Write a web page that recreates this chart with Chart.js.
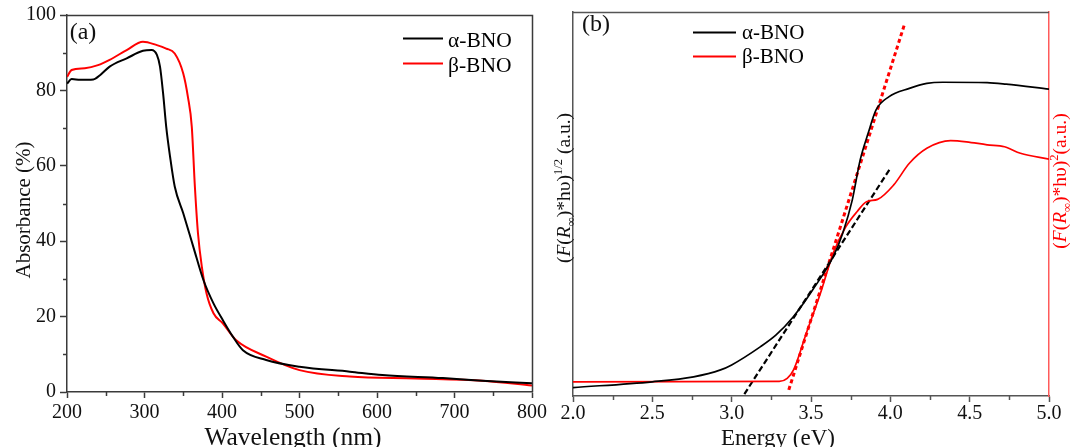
<!DOCTYPE html>
<html><head><meta charset="utf-8">
<script src="https://cdn.jsdelivr.net/npm/chart.js@4.4.1/dist/chart.umd.min.js"></script>
<style>
html,body{margin:0;padding:0;background:#fff;overflow:hidden}
#wrap{position:relative;width:1072px;height:447px;background:#fff}
canvas{position:absolute;top:0}
#ca{left:0}
#cb{left:540px}
</style></head><body>
<div id="wrap"><canvas id="ca" width="560" height="447"></canvas><canvas id="cb" width="532" height="447"></canvas></div>
<script>
const FONT = "'Liberation Serif','Times New Roman',serif";

// ---- Panel (a): absorbance spectra ----
const seriesNames = ['α-BNO', 'β-BNO'];
const wavelengthAlpha = [200,206,217,234,243,255,277,298,309,316,320,324,328,333,339,350,363,376,389,401,414,427,457,500,565,607,685,736,800];
const absorbanceAlpha = [81.8,83.0,82.8,82.9,84.1,86.3,88.5,90.5,90.7,89.4,86.3,79.2,70.4,62.4,54.5,47.4,38.5,29.7,23.5,19.1,14.7,11.1,8.5,6.7,5.4,4.5,3.7,3.0,2.3];
const wavelengthBeta = [200,206,223,240,255,277,298,316,328,339,350,356,361,365,369,374,380,389,401,418,457,500,565,650,736,800];
const absorbanceBeta = [83.6,85.4,85.9,86.7,88.1,90.7,92.9,92.0,91.1,89.8,84.5,78.3,70.4,54.5,42.1,33.2,26.2,20.9,18.2,13.8,9.4,5.8,4.1,3.6,3.0,1.7];
const wavelengthTicks = [200,300,400,500,600,700,800];
const wavelengthMinor = [250,350,450,550,650,750];
const absorbanceTicks = [0,20,40,60,80,100];
const absorbanceMinor = [10,30,50,70,90];

// ---- Panel (b): Tauc plots (a.u.) ----
const energyAlpha = [2.0,2.5,2.76,2.93,3.0,3.18,3.28,3.39,3.51,3.64,3.70,3.76,3.81,3.86,3.91,3.99,4.12,4.23,4.33,4.61,4.73,5.0];
const taucAlpha = [2.2,3.7,5.0,6.8,8.1,12.8,15.9,20.7,27.6,36.3,42.4,51.0,61.5,68.4,74.5,77.9,80.1,81.4,81.7,81.6,81.2,79.9];
const energyBeta = [2.0,3.30,3.35,3.39,3.47,3.56,3.64,3.72,3.79,3.85,3.92,4.02,4.12,4.23,4.38,4.48,4.61,4.72,4.82,5.0];
const taucBeta = [3.7,3.8,4.6,6.8,16.3,26.8,37.2,44.1,48.0,50.6,51.2,54.9,60.6,64.5,66.5,66.2,65.4,64.9,63.2,61.7];
const fitAlphaX = [3.08, 4.00];
const fitAlphaY = [0.5, 59.3];
const fitBetaX = [3.36, 4.09];
const fitBetaY = [1.6, 96.9];
const energyTicks = [2.0,2.5,3.0,3.5,4.0,4.5,5.0];
const energyMinor = [2.25,2.75,3.25,3.75,4.25,4.75];

const AX = '#3a3a3a';
const AXB = '#555555';
const RED = '#ff0000';
const RAX = '#ff5a5a';

const pts = (xs, ys) => xs.map((x, i) => ({x, y: ys[i]}));

function drawRich(ctx, x, y, rot, segs, color, size) {
  ctx.save();
  ctx.translate(x, y);
  ctx.rotate(rot);
  ctx.fillStyle = color;
  ctx.textBaseline = 'alphabetic';
  ctx.textAlign = 'left';
  let total = 0;
  const m = segs.map(s => {
    const sz = size * (s.scale || 1);
    const f = (s.italic ? 'italic ' : '') + sz + 'px ' + FONT;
    ctx.font = f;
    const w = ctx.measureText(s.t).width;
    total += w;
    return {f, w, dy: (s.dy || 0) * size, t: s.t};
  });
  let cx = -total / 2;
  for (const s of m) { ctx.font = s.f; ctx.fillText(s.t, cx, s.dy); cx += s.w; }
  ctx.restore();
}

function legend(ctx, x0, x1, tx, rows, size) {
  ctx.save();
  ctx.font = size + 'px ' + FONT;
  ctx.textBaseline = 'alphabetic';
  ctx.textAlign = 'left';
  rows.forEach(r => {
    ctx.strokeStyle = r.color; ctx.lineWidth = 2;
    ctx.beginPath(); ctx.moveTo(x0, r.ly); ctx.lineTo(x1, r.ly); ctx.stroke();
    ctx.fillStyle = '#000';
    ctx.fillText(r.label, tx, r.by);
  });
  ctx.restore();
}

function minorTicksX(ctx, scale, vals, len, color) {
  ctx.save(); ctx.strokeStyle = color; ctx.lineWidth = 1.5;
  vals.forEach(v => { const p = Math.round(scale.getPixelForValue(v)) + 0.5; ctx.beginPath(); ctx.moveTo(p, scale.top); ctx.lineTo(p, scale.top + len); ctx.stroke(); });
  ctx.restore();
}
function minorTicksY(ctx, scale, vals, len, color) {
  ctx.save(); ctx.strokeStyle = color; ctx.lineWidth = 1.5;
  vals.forEach(v => { const p = Math.round(scale.getPixelForValue(v)) + 0.5; ctx.beginPath(); ctx.moveTo(scale.right, p); ctx.lineTo(scale.right - len, p); ctx.stroke(); });
  ctx.restore();
}

const tickFont = {family: FONT, size: 20};

// ---------------- Chart (a) ----------------
new Chart(document.getElementById('ca'), {
  type: 'line',
  data: {datasets: [
    {label: seriesNames[0], data: pts(wavelengthAlpha, absorbanceAlpha), borderColor: '#000', borderWidth: 2, pointRadius: 0, cubicInterpolationMode: 'monotone', fill: false},
    {label: seriesNames[1], data: pts(wavelengthBeta, absorbanceBeta), borderColor: RED, borderWidth: 2, pointRadius: 0, cubicInterpolationMode: 'monotone', fill: false}
  ]},
  options: {
    responsive: false, animation: false, devicePixelRatio: 1, events: [],
    layout: {padding: {left: 0, right: 28, top: 15, bottom: 0}},
    plugins: {legend: {display: false}, tooltip: {enabled: false}},
    scales: {
      x: {type: 'linear', min: 200, max: 800,
        afterBuildTicks: s => { s.ticks = wavelengthTicks.map(v => ({value: v})); },
        afterFit: s => { s.height = 55; s.paddingLeft = 0; s.paddingRight = 0; },
        grid: {display: true, drawOnChartArea: false, drawTicks: true, tickLength: 6, tickColor: AX, tickWidth: 1.5},
        border: {display: true, color: AX, width: 1.5},
        ticks: {font: tickFont, color: '#111', padding: 3, maxRotation: 0, autoSkip: false, callback: v => String(v)}},
      y: {type: 'linear', min: 0, max: 100,
        afterBuildTicks: s => { s.ticks = absorbanceTicks.map(v => ({value: v})); },
        afterFit: s => { s.width = 67; s.paddingTop = 0; s.paddingBottom = 0; },
        grid: {display: true, drawOnChartArea: false, drawTicks: true, tickLength: 7, tickColor: AX, tickWidth: 1.5},
        border: {display: true, color: AX, width: 1.5},
        ticks: {font: tickFont, color: '#111', padding: 4, autoSkip: false, callback: v => String(v)}}
    }
  },
  plugins: [{
    id: 'decorA',
    afterDraw(chart) {
      const ctx = chart.ctx, a = chart.chartArea;
      ctx.save(); ctx.strokeStyle = AX; ctx.lineWidth = 1.5;
      ctx.beginPath(); ctx.moveTo(a.left, a.top + 0.5); ctx.lineTo(a.right + 0.5, a.top + 0.5); ctx.lineTo(a.right + 0.5, a.bottom); ctx.stroke();
      ctx.restore();
      minorTicksX(ctx, chart.scales.x, wavelengthMinor, 4, AX);
      minorTicksY(ctx, chart.scales.y, absorbanceMinor, 4, AX);
      drawRich(ctx, 293, 445, 0, [{t: 'Wavelength (nm)'}], '#111', 25.5);
      drawRich(ctx, 30, 210, -Math.PI / 2, [{t: 'Absorbance (%)'}], '#111', 21);
      drawRich(ctx, 83, 39, 0, [{t: '(a)'}], '#111', 24);
      legend(ctx, 403, 443, 448, [
        {label: seriesNames[0], color: '#000', ly: 38.5, by: 46.5},
        {label: seriesNames[1], color: RED, ly: 63.5, by: 71.5}
      ], 21.5);
    }
  }]
});

// ---------------- Chart (b) ----------------
new Chart(document.getElementById('cb'), {
  type: 'line',
  data: {datasets: [
    {label: seriesNames[0], data: pts(energyAlpha, taucAlpha), borderColor: '#000', borderWidth: 1.7, pointRadius: 0, cubicInterpolationMode: 'monotone', fill: false, yAxisID: 'y'},
    {label: seriesNames[1], data: pts(energyBeta, taucBeta), borderColor: RED, borderWidth: 1.7, pointRadius: 0, cubicInterpolationMode: 'monotone', fill: false, yAxisID: 'y2'},
    {label: 'fit α', data: pts(fitAlphaX, fitAlphaY), borderColor: '#000', borderWidth: 2.2, borderDash: [6, 3], pointRadius: 0, fill: false, yAxisID: 'y'},
    {label: 'fit β', data: pts(fitBetaX, fitBetaY), borderColor: RED, borderWidth: 3, borderDash: [4, 3], pointRadius: 0, fill: false, yAxisID: 'y2'}
  ]},
  options: {
    responsive: false, animation: false, devicePixelRatio: 1, events: [],
    layout: {padding: {left: 0, right: 0, top: 12, bottom: 0}},
    plugins: {legend: {display: false}, tooltip: {enabled: false}},
    scales: {
      x: {type: 'linear', min: 2.0, max: 5.0,
        afterBuildTicks: s => { s.ticks = energyTicks.map(v => ({value: v})); },
        afterFit: s => { s.height = 51; s.paddingLeft = 0; s.paddingRight = 0; },
        grid: {display: true, drawOnChartArea: false, drawTicks: true, tickLength: 6, tickColor: AXB, tickWidth: 1.5},
        border: {display: true, color: AXB, width: 1.5},
        ticks: {font: tickFont, color: '#111', padding: 0, maxRotation: 0, autoSkip: false, callback: v => Number(v).toFixed(1)}},
      y: {type: 'linear', position: 'left', min: 0, max: 100,
        afterFit: s => { s.width = 33; s.paddingTop = 0; s.paddingBottom = 0; },
        grid: {display: false, drawTicks: false},
        border: {display: true, color: AXB, width: 1.5},
        ticks: {display: false}},
      y2: {type: 'linear', position: 'right', min: 0, max: 100,
        afterFit: s => { s.width = 23; s.paddingTop = 0; s.paddingBottom = 0; },
        grid: {display: false, drawTicks: false},
        border: {display: true, color: RAX, width: 1.5},
        ticks: {display: false}}
    }
  },
  plugins: [{
    id: 'decorB',
    afterDraw(chart) {
      const ctx = chart.ctx, a = chart.chartArea;
      ctx.save(); ctx.strokeStyle = AXB; ctx.lineWidth = 1.5;
      ctx.beginPath(); ctx.moveTo(a.left, a.top + 0.5); ctx.lineTo(a.right, a.top + 0.5); ctx.stroke();
      ctx.restore();
      minorTicksX(ctx, chart.scales.x, energyMinor, 4, AXB);
      drawRich(ctx, 238, 445, 0, [{t: 'Energy (eV)'}], '#111', 23);
      drawRich(ctx, 30, 188, -Math.PI / 2, [
        {t: '('}, {t: 'F', italic: true}, {t: '('}, {t: 'R', italic: true}, {t: '∞', scale: 0.65, dy: 0.25},
        {t: ')*hυ)'}, {t: '1/2', scale: 0.65, dy: -0.42}, {t: ' (a.u.)'}
      ], '#111', 19.5);
      drawRich(ctx, 526, 181, -Math.PI / 2, [
        {t: '('}, {t: 'F', italic: true}, {t: '('}, {t: 'R', italic: true}, {t: '∞', scale: 0.65, dy: 0.25},
        {t: ')*hυ)'}, {t: '2', scale: 0.65, dy: -0.42}, {t: '(a.u.)'}
      ], RED, 19.5);
      drawRich(ctx, 56, 31, 0, [{t: '(b)'}], '#111', 24);
      legend(ctx, 153, 196, 202, [
        {label: seriesNames[0], color: '#000', ly: 32.5, by: 38.5},
        {label: seriesNames[1], color: RED, ly: 56.5, by: 62.5}
      ], 21);
    }
  }]
});
</script>
</body></html>
